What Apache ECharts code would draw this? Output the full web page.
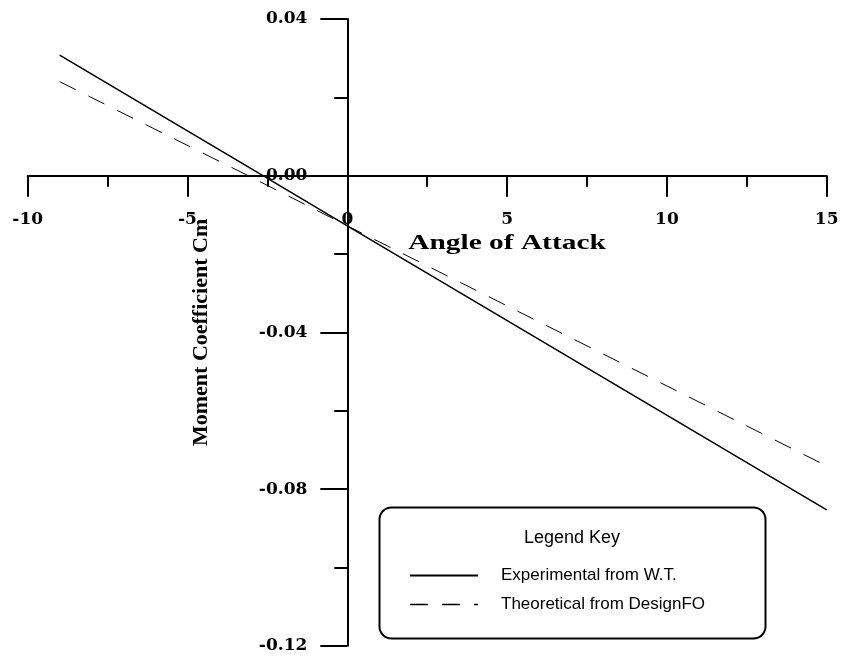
<!DOCTYPE html>
<html>
<head>
<meta charset="utf-8">
<script src="https://cdn.jsdelivr.net/npm/echarts@6/dist/echarts.min.js"></script>
<style>html,body{margin:0;padding:0;background:#fff}#c{width:842px;height:657px}</style>
</head>
<body>
<div id="c"></div>
<script>
// Data
const expAngle = [-9, -2.64, 0, 15];
const expCm = [0.0308, 0, -0.0128, -0.0853];
const theoAngle = [-9, -3.1, 0, 15];
const theoCm = [0.024, 0, -0.0128, -0.0741];
const seriesNames = ['Experimental from W.T.', 'Theoretical from DesignFO'];
const xTitle = 'Angle of Attack';
const yTitle = 'Moment Coefficient Cm';
const legendTitle = 'Legend Key';

const X_MIN = -10, X_MAX = 15, Y_MIN = -0.12, Y_MAX = 0.04;
const G = {left: 27.7, right: 15.3, top: 19, bottom: 11.2};
const W = 842, H = 657;
const gw = W - G.left - G.right, gh = H - G.top - G.bottom;
// axes cross at zero: shift each axis from the grid edge to the zero line
const yAxisOffset = -(0 - X_MIN) / (X_MAX - X_MIN) * gw;
const xAxisOffset = -(0 - Y_MIN) / (Y_MAX - Y_MIN) * gh;

const chart = echarts.init(document.getElementById('c'), null, {renderer: 'canvas'});
const tickFont = {fontFamily: 'DejaVu Serif', fontWeight: 'bold', fontSize: 17, color: '#000'};
chart.setOption({
  animation: false,
  backgroundColor: '#fff',
  grid: Object.assign({containLabel: false, outerBoundsMode: 'none'}, G),
  xAxis: {
    type: 'value', min: X_MIN, max: X_MAX, interval: 5, position: 'bottom', offset: xAxisOffset,
    axisLine: {onZero: false, lineStyle: {color: '#000', width: 2}},
    axisTick: {show: true, length: 21, lineStyle: {color: '#000', width: 2}},
    minorTick: {show: true, splitNumber: 2, length: 11, lineStyle: {color: '#000', width: 2}},
    splitLine: {show: false},
    axisLabel: Object.assign({margin: 35, formatter: v => String(v)}, tickFont)
  },
  yAxis: {
    type: 'value', min: Y_MIN, max: Y_MAX, interval: 0.04, position: 'left', offset: yAxisOffset,
    axisLine: {onZero: false, lineStyle: {color: '#000', width: 2}},
    axisTick: {show: true, length: 27, lineStyle: {color: '#000', width: 2}},
    minorTick: {show: true, splitNumber: 2, length: 13, lineStyle: {color: '#000', width: 2}},
    splitLine: {show: false},
    axisLabel: Object.assign({margin: 40, formatter: v => v.toFixed(2)}, tickFont),
    name: yTitle, nameLocation: 'middle', nameGap: 135,
    nameTextStyle: {fontFamily: 'Liberation Serif', fontWeight: 'bold', fontSize: 22, color: '#000'}
  },
  legend: {
    left: 409, top: 567, orient: 'vertical', padding: 0,
    itemWidth: 68, itemHeight: 14, itemGap: 12,
    itemStyle: {opacity: 0},
    data: [
      {name: seriesNames[0], lineStyle: {width: 2, color: '#000', type: 'solid'}},
      {name: seriesNames[1], lineStyle: {width: 1.5, color: '#000', type: [18, 14]}}
    ],
    textStyle: {fontFamily: 'Liberation Sans', fontSize: 17, color: '#000', lineHeight: 14, padding: [0, 0, 0, 18]}
  },
  graphic: [
    {type: 'rect', left: 377, top: 505, shape: {width: 386, height: 131, r: 12},
     style: {fill: 'none', stroke: '#000', lineWidth: 2}, z: 10},
    {type: 'text', x: 572, y: 538, z: 10,
     style: {text: legendTitle, textAlign: 'center', textVerticalAlign: 'middle', fontFamily: 'Liberation Sans', fontSize: 18, fill: '#000'}},
    {type: 'text', x: 507, y: 244, scaleX: 1.4, z: 10,
     style: {text: xTitle, textAlign: 'center', textVerticalAlign: 'middle', fontFamily: 'Liberation Serif', fontWeight: 'bold', fontSize: 21, fill: '#000'}}
  ],
  series: [
    {name: seriesNames[0], type: 'line', symbol: 'none', showSymbol: false, z: 5, color: '#000',
     data: expAngle.map((a, i) => [a, expCm[i]]),
     lineStyle: {color: '#000', width: 1.5, type: 'solid'}},
    {name: seriesNames[1], type: 'line', symbol: 'none', showSymbol: false, z: 5, color: '#000',
     data: theoAngle.map((a, i) => [a, theoCm[i]]),
     lineStyle: {color: '#000', width: 1, type: [18, 14]}}
  ]
});
</script>
</body>
</html>
